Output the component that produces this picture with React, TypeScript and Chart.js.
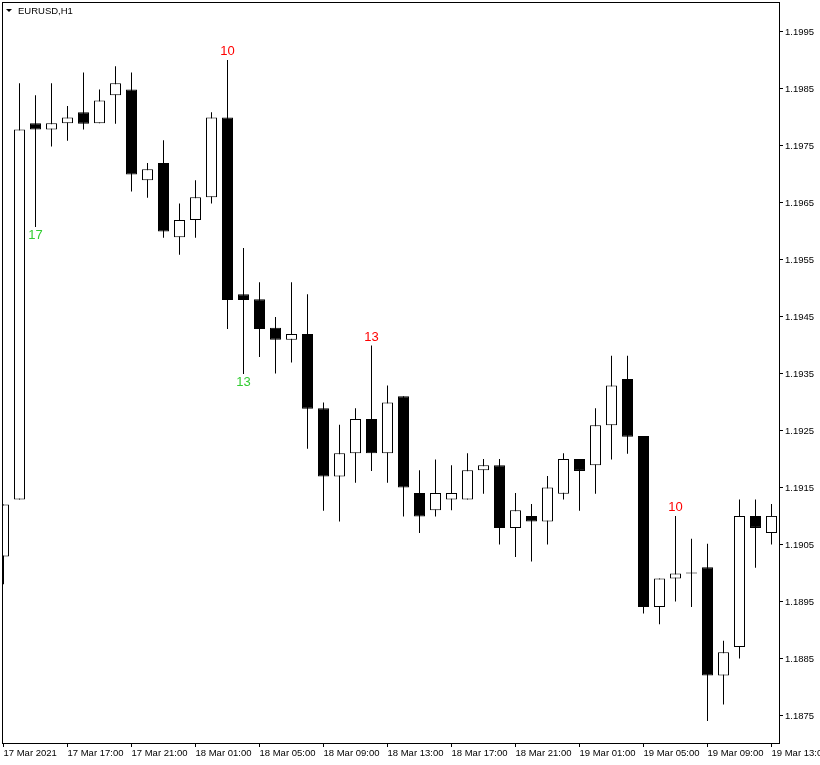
import React, { useEffect, useRef } from 'react';
import { Chart, registerables } from 'chart.js';

Chart.register(...registerables);

const symbolTitle = 'EURUSD,H1';

const opens = [
  1.19030, 1.19130, 1.19790, 1.19779, 1.19790, 1.19809, 1.19790, 1.19839, 1.19849, 1.19690,
  1.19720, 1.19590, 1.19620, 1.19660, 1.19800, 1.19490, 1.19481, 1.19431, 1.19410, 1.19420,
  1.19290, 1.19170, 1.19211, 1.19271, 1.19211, 1.19311, 1.19141, 1.19111, 1.19130, 1.19130,
  1.19181, 1.19190, 1.19080, 1.19101, 1.19091, 1.19140, 1.19201, 1.19190, 1.19260, 1.19341,
  1.19241, 1.18941, 1.18991, 1.19000, 1.19011, 1.18821, 1.18871, 1.19101, 1.19071,
];
const highs = [
  1.19121, 1.19860, 1.19839, 1.19860, 1.19820, 1.19879, 1.19849, 1.19890, 1.19879, 1.19720,
  1.19760, 1.19649, 1.19690, 1.19809, 1.19901, 1.19571, 1.19511, 1.19450, 1.19511, 1.19490,
  1.19300, 1.19261, 1.19290, 1.19400, 1.19330, 1.19311, 1.19181, 1.19200, 1.19190, 1.19211,
  1.19201, 1.19201, 1.19141, 1.19122, 1.19171, 1.19211, 1.19201, 1.19290, 1.19382, 1.19382,
  1.19241, 1.18991, 1.19101, 1.19061, 1.19052, 1.18882, 1.19130, 1.19130, 1.19122,
];
const lows = [
  1.18981, 1.19130, 1.19608, 1.19749, 1.19759, 1.19779, 1.19790, 1.19789, 1.19670, 1.19659,
  1.19589, 1.19559, 1.19589, 1.19649, 1.19429, 1.19350, 1.19380, 1.19351, 1.19370, 1.19219,
  1.19110, 1.19091, 1.19159, 1.19180, 1.19159, 1.19100, 1.19071, 1.19100, 1.19111, 1.19130,
  1.19140, 1.19051, 1.19029, 1.19021, 1.19051, 1.19130, 1.19110, 1.19140, 1.19200, 1.19210,
  1.18930, 1.18911, 1.18951, 1.18941, 1.18741, 1.18770, 1.18851, 1.19010, 1.19051,
];
const closes = [
  1.19121, 1.19779, 1.19779, 1.19790, 1.19800, 1.19789, 1.19830, 1.19860, 1.19700, 1.19709,
  1.19600, 1.19620, 1.19660, 1.19800, 1.19480, 1.19480, 1.19429, 1.19410, 1.19420, 1.19289,
  1.19170, 1.19211, 1.19271, 1.19211, 1.19300, 1.19151, 1.19100, 1.19141, 1.19141, 1.19181,
  1.19190, 1.19080, 1.19111, 1.19091, 1.19151, 1.19201, 1.19180, 1.19260, 1.19330, 1.19240,
  1.18941, 1.18991, 1.19000, 1.19000, 1.18821, 1.18862, 1.19101, 1.19080, 1.19101,
];

const timeTickIndex = [0, 4, 8, 12, 16, 20, 24, 28, 32, 36, 40, 44, 48];
const timeTickLabels = [
  '17 Mar 2021', '17 Mar 17:00', '17 Mar 21:00', '18 Mar 01:00', '18 Mar 05:00',
  '18 Mar 09:00', '18 Mar 13:00', '18 Mar 17:00', '18 Mar 21:00', '19 Mar 01:00',
  '19 Mar 05:00', '19 Mar 09:00', '19 Mar 13:00',
];
const priceTicks = [
  1.1875, 1.1885, 1.1895, 1.1905, 1.1915, 1.1925, 1.1935, 1.1945, 1.1955, 1.1965,
  1.1975, 1.1985, 1.1995,
];
const priceMin = 1.187026;
const priceMax = 1.200026;
const barMin = -0.09375;
const barMax = 48.46875;

const markerIndex = [2, 14, 15, 23, 42];
const markerText = ['17', '10', '13', '13', '10'];
const markerSide = ['low', 'high', 'low', 'high', 'high'];

const FONT = "'Liberation Sans', Arial, sans-serif";

const overlayPlugin = {
  id: 'mt4overlay',
  afterDraw(chart: any) {
    const { ctx, chartArea: a, scales } = chart;
    ctx.save();
    ctx.strokeStyle = '#000';
    ctx.lineWidth = 1;
    ctx.strokeRect(a.left + 0.5, a.top + 0.5, a.right - a.left, a.bottom - a.top);

    ctx.fillStyle = '#000';
    ctx.beginPath();
    ctx.moveTo(6, 9);
    ctx.lineTo(12, 9);
    ctx.lineTo(9, 12);
    ctx.closePath();
    ctx.fill();
    ctx.font = `9.5px ${FONT}`;
    ctx.textAlign = 'left';
    ctx.textBaseline = 'middle';
    ctx.fillText(symbolTitle, 18, 11);

    ctx.font = `13px ${FONT}`;
    ctx.textAlign = 'center';
    markerIndex.forEach((k, i) => {
      const isHigh = markerSide[i] === 'high';
      const price = isHigh ? highs[k] : lows[k];
      const x = scales.x.getPixelForValue(k);
      const y = scales.y.getPixelForValue(price) + (isHigh ? -8 : 8);
      ctx.fillStyle = isHigh ? '#ff0000' : '#32cd32';
      ctx.fillText(markerText[i], x, y);
    });
    ctx.restore();
  },
};

export default function App() {
  const ref = useRef<HTMLCanvasElement>(null);

  useEffect(() => {
    Chart.defaults.font.family = FONT;
    const bodies = opens.map((o, i) => ({ x: i, y: [o, closes[i]] }));
    const wicks = lows.map((l, i) => ({ x: i, y: [l, highs[i]] }));
    const bodyColors = opens.map((o, i) => (closes[i] > o ? '#ffffff' : '#000000'));

    const chart = new Chart(ref.current as HTMLCanvasElement, {
      type: 'bar',
      data: {
        datasets: [
          {
            data: bodies as any,
            backgroundColor: bodyColors,
            borderColor: '#000000',
            borderWidth: 1,
            borderSkipped: false,
            barThickness: 11,
            minBarLength: 1,
            inflateAmount: 0,
            grouped: false,
            order: 0,
          } as any,
          {
            data: wicks as any,
            backgroundColor: '#000000',
            borderWidth: 0,
            barThickness: 1,
            inflateAmount: 0,
            grouped: false,
            order: 1,
          } as any,
        ],
      },
      options: {
        animation: false,
        responsive: false,
        events: [],
        layout: { padding: { left: 2, top: 2, right: 0, bottom: 0 } },
        plugins: { legend: { display: false }, tooltip: { enabled: false }, title: { display: false } },
        scales: {
          x: {
            type: 'linear',
            min: barMin,
            max: barMax,
            offset: false,
            bounds: 'data',
            grid: { display: true, drawOnChartArea: false, drawTicks: true, tickLength: 4, color: '#000', tickColor: '#000', offset: false },
            border: { display: false },
            ticks: {
              autoSkip: false,
              maxRotation: 0,
              minRotation: 0,
              align: 'start',
              padding: 1,
              color: '#000',
              font: { size: 9.5, family: FONT },
              callback: (_v: any, idx: number) => timeTickLabels[idx],
            },
            afterBuildTicks: (s: any) => {
              s.ticks = timeTickIndex.map((v) => ({ value: v }));
            },
            afterFit: (s: any) => {
              s.height = 22;
              s.paddingLeft = 0;
              s.paddingRight = 0;
            },
          } as any,
          y: {
            type: 'linear',
            position: 'right',
            min: priceMin,
            max: priceMax,
            bounds: 'data',
            beginAtZero: false,
            grid: { display: true, drawOnChartArea: false, drawTicks: true, tickLength: 4, color: '#000', tickColor: '#000' },
            border: { display: false },
            ticks: {
              autoSkip: false,
              padding: 2,
              color: '#000',
              font: { size: 9.5, family: FONT },
              callback: (v: any) => Number(v).toFixed(4),
            },
            afterBuildTicks: (s: any) => {
              s.ticks = priceTicks.map((v) => ({ value: v }));
            },
            afterFit: (s: any) => {
              s.width = 41;
              s.paddingTop = 0;
              s.paddingBottom = 0;
            },
          } as any,
        },
      },
      plugins: [overlayPlugin],
    });
    return () => chart.destroy();
  }, []);

  return (
    <div style={{ position: 'fixed', left: 0, top: 0, width: 820, height: 765, background: '#fff' }}>
      <canvas ref={ref} width={820} height={765} style={{ display: 'block', width: 820, height: 765 }} />
    </div>
  );
}
